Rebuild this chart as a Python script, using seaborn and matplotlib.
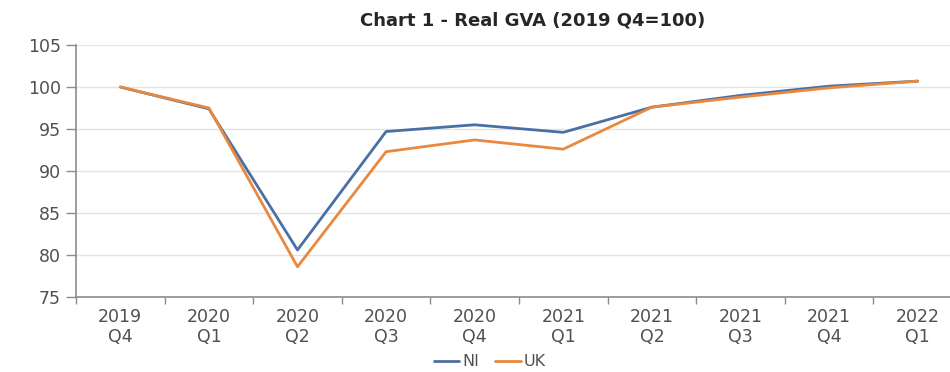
import numpy as np
import pandas as pd
import matplotlib
matplotlib.use("Agg")
import matplotlib.pyplot as plt
import seaborn as sns

quarters = ["2019\nQ4", "2020\nQ1", "2020\nQ2", "2020\nQ3", "2020\nQ4",
            "2021\nQ1", "2021\nQ2", "2021\nQ3", "2021\nQ4", "2022\nQ1"]
ni_values = [100.0, 97.4, 80.6, 94.7, 95.5, 94.6, 97.6, 99.0, 100.1, 100.7]
uk_values = [100.0, 97.5, 78.6, 92.3, 93.7, 92.6, 97.6, 98.8, 99.9, 100.7]
y_ticks = [75, 80, 85, 90, 95, 100, 105]

df = pd.DataFrame({
    "pos": list(range(len(quarters))) * 2,
    "value": ni_values + uk_values,
    "series": ["NI"] * len(quarters) + ["UK"] * len(quarters),
})

sns.set_theme(style="white")
plt.rcParams["font.family"] = ["DejaVu Sans"]

fig = plt.figure(figsize=(9.5, 3.72), dpi=100)
W, H = 950, 372
ax = fig.add_axes([76 / W, (H - 297) / H, (962 - 76) / W, (297 - 45) / H])

palette = {"NI": "#4a6fa5", "UK": "#e8893f"}
sns.lineplot(data=df, x="pos", y="value", hue="series", palette=palette,
             linewidth=2.0, ax=ax, legend=False, sort=False)

ax.set_xlim(-0.5, len(quarters) - 0.5)
ax.set_ylim(75, 105)
ax.set_yticks(y_ticks)
ax.set_yticklabels([str(v) for v in y_ticks], fontsize=12.5, color="#505050")
ax.yaxis.grid(True, color="#e3e3e3", linewidth=1.0)
ax.set_axisbelow(True)

# Category boundaries carry tick marks; labels sit at category centres
ax.set_xticks(np.arange(-0.5, len(quarters)), minor=False)
ax.set_xticklabels([""] * (len(quarters) + 1))
ax.set_xticks(np.arange(len(quarters)), minor=True)
ax.set_xticklabels(quarters, minor=True, fontsize=12.5, color="#505050",
                   linespacing=1.1)
ax.tick_params(axis="x", which="major", length=5, width=1, color="#8c8c8c",
               direction="out", bottom=True)
ax.tick_params(axis="x", which="minor", length=0, pad=8)
ax.tick_params(axis="y", length=7, width=1, color="#8c8c8c", direction="out",
               left=True, pad=4)

for side in ("top", "right"):
    ax.spines[side].set_visible(False)
for side in ("left", "bottom"):
    ax.spines[side].set_color("#8c8c8c")
    ax.spines[side].set_linewidth(1.2)
ax.set_xlabel("")
ax.set_ylabel("")

fig.text(533 / W, 1 - 21 / H, "Chart 1 - Real GVA (2019 Q4=100)",
         ha="center", va="center", fontsize=13, fontweight="bold",
         color="#262626")

handles = [plt.Line2D([], [], color=palette[s], linewidth=2) for s in ["NI", "UK"]]
fig.legend(handles, ["NI", "UK"], loc="center", bbox_to_anchor=(490 / W, 1 - 362 / H),
           ncol=2, frameon=False, fontsize=11.5, handlelength=1.6,
           handletextpad=0.2, columnspacing=1.0, labelcolor="#505050",
           borderpad=0.1)

fig.savefig("out.png", dpi=100, facecolor="white")
